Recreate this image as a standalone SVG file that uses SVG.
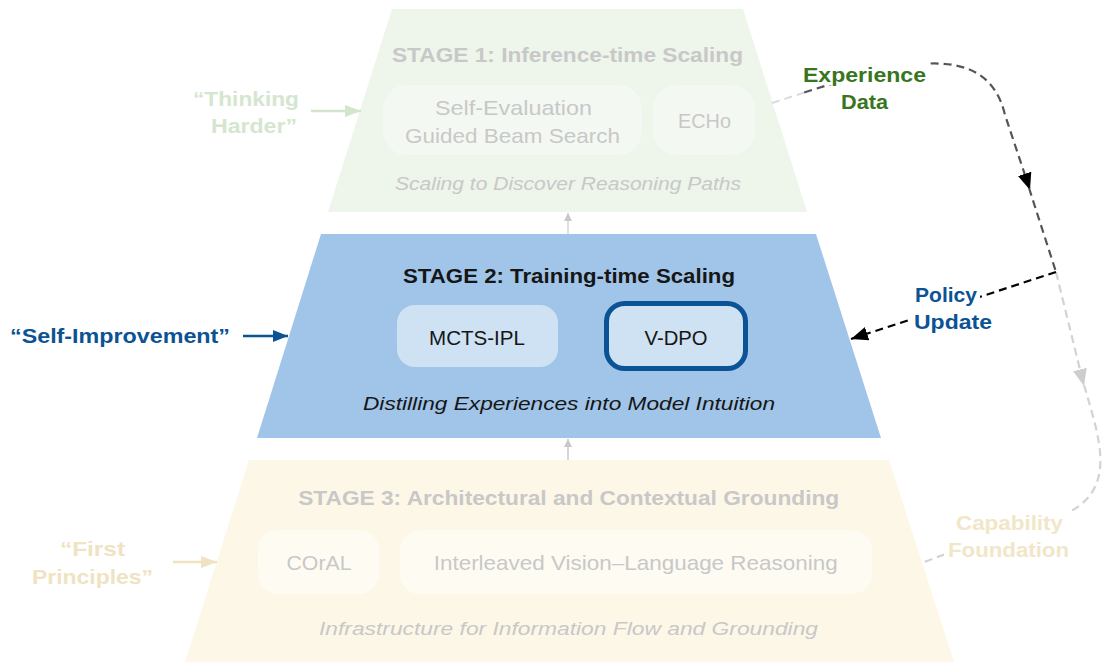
<svg xmlns="http://www.w3.org/2000/svg" width="1105" height="662" viewBox="0 0 1105 662">
  <defs>
    <style>
      text { font-family: "Liberation Sans", Arial, sans-serif; }
      .title { font-size: 21px; font-weight: bold; text-anchor: middle; }
      .node { font-size: 21px; text-anchor: middle; }
      .sub { font-size: 19px; font-style: italic; text-anchor: middle; }
      .lbl { font-size: 21px; font-weight: bold; text-anchor: middle; }
      .faded { fill: #c8c8c8; }
      .dark { fill: #161616; }
      .dash { fill: none; stroke-width: 2.2; stroke-dasharray: 8 5; }
    </style>
    <marker id="ah-blue" markerUnits="userSpaceOnUse" markerWidth="16" markerHeight="12" refX="15" refY="6" orient="auto">
      <path d="M0,0 L15,6 L0,12 Z" fill="#0b5394"/>
    </marker>
    <marker id="ah-green" markerUnits="userSpaceOnUse" markerWidth="17" markerHeight="12" refX="16" refY="6" orient="auto">
      <path d="M0,0 L16,6 L0,12 Z" fill="#d4e5cd"/>
    </marker>
    <marker id="ah-tan" markerUnits="userSpaceOnUse" markerWidth="17" markerHeight="12" refX="16" refY="6" orient="auto">
      <path d="M0,0 L16,6 L0,12 Z" fill="#efe3c2"/>
    </marker>
    <marker id="ah-black" markerUnits="userSpaceOnUse" markerWidth="18" markerHeight="14" refX="17" refY="7" orient="auto">
      <path d="M0,0 L17,7 L0,14 Z" fill="#000"/>
    </marker>
    <marker id="ah-gray" markerUnits="userSpaceOnUse" markerWidth="18" markerHeight="14" refX="17" refY="7" orient="auto">
      <path d="M0,0 L17,7 L0,14 Z" fill="#cdcdcd"/>
    </marker>
    <marker id="ah-small" markerUnits="userSpaceOnUse" markerWidth="9" markerHeight="8" refX="8" refY="4" orient="auto">
      <path d="M0,0 L8,4 L0,8 Z" fill="#c8c8c8"/>
    </marker>
  </defs>

  <rect width="1105" height="662" fill="#ffffff"/>

  <!-- Stage 1 -->
  <g id="stage1">
    <polygon points="392,9 743,9 807,212 328,212" fill="#eef5ea"/>
    <text class="title faded" x="567.5" y="62" textLength="351" lengthAdjust="spacingAndGlyphs">STAGE 1: Inference-time Scaling</text>
    <text class="sub faded" x="568" y="190" textLength="346" lengthAdjust="spacingAndGlyphs">Scaling to Discover Reasoning Paths</text>
  </g>
  <g id="node-beam-search">
    <rect x="383" y="85" width="259" height="70" rx="24" fill="#f4f8f2"/>
    <text class="node faded" x="513.5" y="115" textLength="157" lengthAdjust="spacingAndGlyphs">Self-Evaluation</text>
    <text class="node faded" x="512.5" y="143" textLength="215" lengthAdjust="spacingAndGlyphs">Guided Beam Search</text>
  </g>
  <g id="node-echo">
    <rect x="653" y="85" width="102" height="70" rx="24" fill="#f4f8f2"/>
    <text class="node faded" x="704.5" y="128" textLength="53" lengthAdjust="spacingAndGlyphs">ECHo</text>
  </g>

  <!-- Stage 2 -->
  <g id="stage2">
    <polygon points="321,234 816,234 881,438 257,438" fill="#a0c5e8"/>
    <text class="title dark" x="569" y="283" textLength="332" lengthAdjust="spacingAndGlyphs">STAGE 2: Training-time Scaling</text>
    <text class="sub dark" x="569" y="410" textLength="412" lengthAdjust="spacingAndGlyphs">Distilling Experiences into Model Intuition</text>
  </g>
  <g id="node-mcts-ipl">
    <rect x="397" y="305" width="161" height="62" rx="18" fill="#cfe2f3"/>
    <text class="node dark" x="477" y="345" textLength="96" lengthAdjust="spacingAndGlyphs">MCTS-IPL</text>
  </g>
  <g id="node-v-dpo">
    <rect x="606.5" y="303.5" width="139" height="65" rx="18" fill="#cfe2f3" stroke="#0b5394" stroke-width="5"/>
    <text class="node dark" x="676" y="345" textLength="63" lengthAdjust="spacingAndGlyphs">V-DPO</text>
  </g>

  <!-- Stage 3 -->
  <g id="stage3">
    <polygon points="249,460 889,460 954,662 185,662" fill="#fdf7e7"/>
    <text class="title faded" x="568.7" y="505" textLength="541" lengthAdjust="spacingAndGlyphs">STAGE 3: Architectural and Contextual Grounding</text>
    <text class="sub faded" x="568.5" y="635" textLength="499" lengthAdjust="spacingAndGlyphs">Infrastructure for Information Flow and Grounding</text>
  </g>
  <g id="node-coral">
    <rect x="258" y="530" width="121" height="64" rx="20" fill="#fefbf3"/>
    <text class="node faded" x="319" y="570" textLength="65" lengthAdjust="spacingAndGlyphs">COrAL</text>
  </g>
  <g id="node-interleaved">
    <rect x="400" y="530" width="472" height="64" rx="20" fill="#fefbf3"/>
    <text class="node faded" x="635.7" y="570" textLength="404" lengthAdjust="spacingAndGlyphs">Interleaved Vision–Language Reasoning</text>
  </g>

  <!-- Connectors -->
  <g id="connectors">
    <!-- stage-to-stage arrows -->
    <line x1="568" y1="234" x2="568" y2="213" stroke="#d4d4d4" stroke-width="1.5" marker-end="url(#ah-small)"/>
    <line x1="568" y1="460" x2="568" y2="439" stroke="#c8c8c8" stroke-width="1.5" marker-end="url(#ah-small)"/>

    <!-- side inputs -->
    <line x1="311" y1="111" x2="361" y2="111" stroke="#d4e5cd" stroke-width="2.5" marker-end="url(#ah-green)"/>
    <line x1="243" y1="336" x2="288" y2="336" stroke="#0b5394" stroke-width="2.5" marker-end="url(#ah-blue)"/>
    <line x1="173" y1="562" x2="217" y2="562" stroke="#efe3c2" stroke-width="2.5" marker-end="url(#ah-tan)"/>

    <!-- experience data loop -->
    <path class="dash" d="M772,103 C782.8,99.5 793.6,96 804.2,92.5" stroke="#dcdcdc"/>
    <path class="dash" d="M804.2,92.5 C900.2,61.6 987,38.5 1005,115 L1030,190" stroke="#555555" marker-end="url(#ah-black)"/>
    <path class="dash" d="M1029,188 L1056,272" stroke="#555555"/>

    <!-- capability foundation return -->
    <path class="dash" d="M1056,272 L1084,386" stroke="#d3d3d3" marker-end="url(#ah-gray)"/>
    <path class="dash" d="M1084,385 C1100,440 1118,490 1065,514 C1030,530 965,545 922,563" stroke="#d3d3d3"/>

    <!-- policy update -->
    <path class="dash" d="M1056,272 L851,339" stroke="#000000" marker-end="url(#ah-black)"/>
  </g>

  <!-- Side labels -->
  <g id="label-thinking-harder">
    <text class="lbl" x="246" y="106" fill="#d5e6cf" textLength="106" lengthAdjust="spacingAndGlyphs">“Thinking</text>
    <text class="lbl" x="254" y="133" fill="#d5e6cf" textLength="86" lengthAdjust="spacingAndGlyphs">Harder”</text>
  </g>
  <g id="label-self-improvement">
    <text class="lbl" x="120" y="343" fill="#0b5394" textLength="220" lengthAdjust="spacingAndGlyphs">“Self-Improvement”</text>
  </g>
  <g id="label-first-principles">
    <text class="lbl" x="92.5" y="556" fill="#efe3c3" textLength="65" lengthAdjust="spacingAndGlyphs">“First</text>
    <text class="lbl" x="92.5" y="584" fill="#efe3c3" textLength="121" lengthAdjust="spacingAndGlyphs">Principles”</text>
  </g>
  <g id="label-experience-data">
    <rect x="801" y="60" width="128" height="25" fill="#ffffff"/>
    <text class="lbl" x="864.5" y="82" fill="#38761d" textLength="123" lengthAdjust="spacingAndGlyphs">Experience</text>
    <text class="lbl" x="864.5" y="109" fill="#38761d" textLength="47" lengthAdjust="spacingAndGlyphs">Data</text>
  </g>
  <g id="label-policy-update">
    <rect x="912" y="282" width="68" height="24" fill="#ffffff"/>
    <rect x="912" y="306" width="82" height="29" fill="#ffffff"/>
    <text class="lbl" x="946" y="302" fill="#0b5394" textLength="62" lengthAdjust="spacingAndGlyphs">Policy</text>
    <text class="lbl" x="953" y="329" fill="#0b5394" textLength="78" lengthAdjust="spacingAndGlyphs">Update</text>
  </g>
  <g id="label-capability-foundation">
    <rect x="952" y="510" width="116" height="26" fill="#ffffff"/>
    <rect x="944" y="536" width="130" height="27" fill="#ffffff"/>
    <text class="lbl" x="1009.5" y="530" fill="#f1e6c8" textLength="107" lengthAdjust="spacingAndGlyphs">Capability</text>
    <text class="lbl" x="1008.5" y="557" fill="#f1e6c8" textLength="121" lengthAdjust="spacingAndGlyphs">Foundation</text>
  </g>
</svg>
